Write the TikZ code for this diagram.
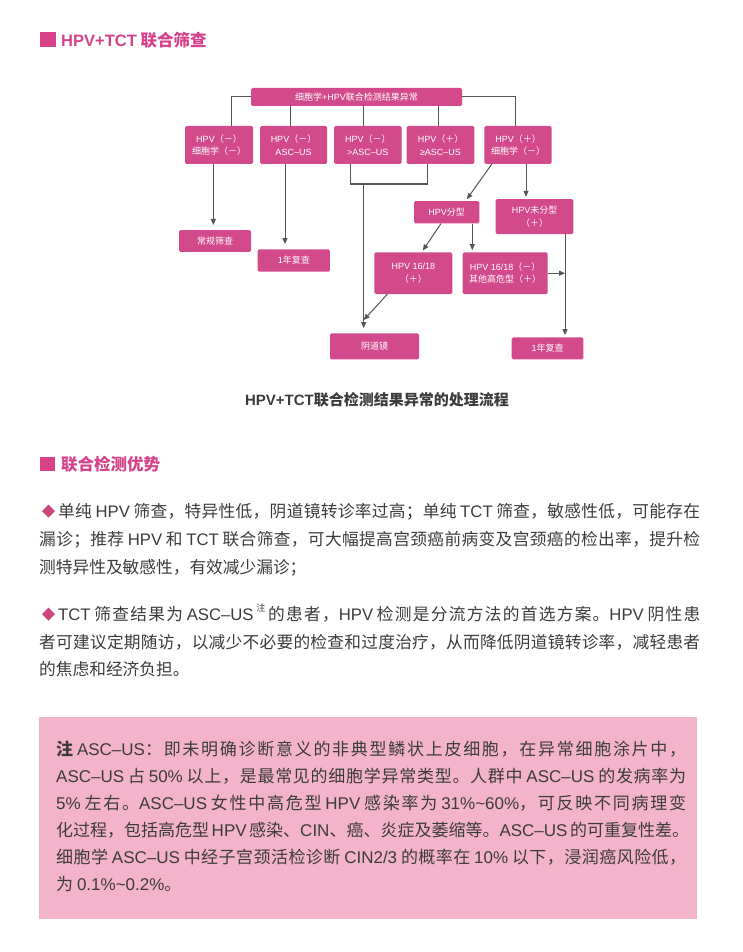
\documentclass[tikz,border=0pt]{standalone}
\usepackage{fontspec}
\setmainfont{Noto Sans CJK SC}
\newfontfamily\latf{Liberation Sans}
\usetikzlibrary{arrows.meta,calc}
% stretchable glue between CJK characters (for justified lines)
\newXeTeXintercharclass\cjkcls
\newcount\cjkcnt
\newcommand\setcjkrange[2]{\cjkcnt=#1\relax
  \loop\XeTeXcharclass\cjkcnt=\cjkcls\relax\advance\cjkcnt by 1\relax
  \ifnum\cjkcnt<#2\relax\repeat}
\setcjkrange{"3000}{"3040}
\setcjkrange{"4E00}{"A000}
\setcjkrange{"FF00}{"FFF0}
\XeTeXinterchartoks\cjkcls\cjkcls={\hskip 0pt plus 1fil\relax}
\XeTeXinterchartokenstate=1
\newcommand\Lx[1]{{\latf #1}}
\definecolor{headpink}{HTML}{D6428A}
\definecolor{boxfill}{HTML}{D24A8C}
\definecolor{notebg}{HTML}{F3B3CB}
\definecolor{txtgray}{HTML}{3C3C3C}
\definecolor{linegray}{HTML}{555555}
\definecolor{diampink}{HTML}{C9497F}
\newcommand\bodyfont{\fontsize{16.7}{20}\selectfont}
\newcommand\notefont{\fontsize{17}{20}\selectfont}
\begin{document}
\begin{tikzpicture}[x=1pt,y=-1pt,
  fbox/.style={fill=boxfill, rounded corners=1.5pt, text=white, align=center,
    font={\XeTeXinterchartokenstate=0\relax\fontsize{9}{12.5}\selectfont}, inner sep=0pt},
  conn/.style={draw=linegray, line width=1pt},
  arr/.style={conn, -{Triangle[length=6pt,width=5pt]}, shorten >=2pt},
  arrl/.style={arr, shorten >=5pt},
  head/.style={anchor=base west, inner sep=0pt, text=headpink,
    font=\fontsize{16.5}{20}\selectfont\bfseries},
  body/.style={anchor=base west, inner sep=0pt, text=txtgray, font=\bodyfont},
  note/.style={anchor=base west, inner sep=0pt, text=txtgray, font=\notefont}]
\useasboundingbox (0,0) rectangle (742,952);
\fill[white] (0,0) rectangle (742,952);

% headings
\fill[headpink] (40,32) rectangle (55.5,47);
\node[head] (h1t) at (61,46.5) {\Lx{HPV+TCT} 联合筛查};

% flowchart boxes
\node[fbox, minimum width=211pt, minimum height=18pt] (top) at (356.5,97) {细胞学\Lx{+HPV}联合检测结果异常};
\node[fbox, minimum width=68pt, minimum height=38pt] (b1) at (219,145) {\Lx{HPV}（－）\\细胞学（－）};
\node[fbox, minimum width=67pt, minimum height=38pt] (b2) at (293.5,145) {\Lx{HPV}（－）\\\Lx{ASC–US}};
\node[fbox, minimum width=67.5pt, minimum height=38pt] (b3) at (367.75,145) {\Lx{HPV}（－）\\\Lx{>ASC–US}};
\node[fbox, minimum width=67.6pt, minimum height=38pt] (b4) at (440.5,145) {\Lx{HPV}（＋）\\\Lx{≥ASC–US}};
\node[fbox, minimum width=67.4pt, minimum height=38pt] (b5) at (518,145) {\Lx{HPV}（＋）\\细胞学（－）};
\node[fbox, minimum width=72pt, minimum height=21.7pt] (rc) at (215,241) {常规筛查};
\node[fbox, minimum width=72.3pt, minimum height=22.4pt] (f1) at (293.8,260.5) {\Lx{1}年复查};
\node[fbox, minimum width=65.3pt, minimum height=22.3pt] (fx) at (446.7,212.2) {\Lx{HPV}分型};
\node[fbox, minimum width=77.6pt, minimum height=35pt] (wf) at (534.5,216.5) {\Lx{HPV}未分型\\（＋）};
\node[fbox, minimum width=78pt, minimum height=41.7pt] (hp) at (413.3,273.2) {\Lx{HPV 16/18}\\（＋）};
\node[fbox, minimum width=85pt, minimum height=41.7pt] (hn) at (505.2,273.2) {\Lx{HPV 16/18}（－）\\其他高危型（＋）};
\node[fbox, minimum width=89pt, minimum height=26pt] (yd) at (374.5,346.3) {阴道镜};
\node[fbox, minimum width=71.6pt, minimum height=22pt] (f2) at (547.5,348.3) {\Lx{1}年复查};

% connectors from the top box
\coordinate (c1) at ([xshift=12pt]b1.north);
\coordinate (c2) at ([xshift=-3.5pt]b2.north);
\coordinate (c3) at ([xshift=-4.75pt]b3.north);
\coordinate (c4) at ([xshift=-2.5pt]b4.north);
\coordinate (c5) at ([xshift=-2.3pt]b5.north);
\draw[conn] (top.west) -| (c1);
\draw[conn] (c2 |- top.south) -- (c2);
\draw[conn] (c3 |- top.south) -- (c3);
\draw[conn] (c4 |- top.south) -- (c4);
\draw[conn] (top.east) -| (c5);

% row 1 to lower boxes
\coordinate (d1) at ([xshift=-5.7pt]b1.south);
\coordinate (d2) at ([xshift=-8.5pt]b2.south);
\draw[arrl] (d1) -- (d1 |- rc.north);
\draw[arrl] (d2) -- (d2 |- f1.north);
\coordinate (d3) at ([xshift=-17.75pt]b3.south);
\coordinate (d4) at ([xshift=-12.8pt]b4.south);
\coordinate (m) at (363.7,184);
\draw[conn] (d3) -- (d3 |- m) -- (d4 |- m) -- (d4);
\draw[arrl] (m) -- (m |- yd.north);
\draw[arr] ([xshift=-26.3pt]b5.south) -- ([xshift=19pt]fx.north);
\coordinate (d5) at ([xshift=8pt]b5.south);
\draw[arr] (d5) -- (d5 |- wf.north);
\draw[arr] ([xshift=-5.7pt]fx.south) -- ([xshift=8.4pt]hp.north);
\coordinate (d6) at ([xshift=25.6pt]fx.south);
\draw[arr] (d6) -- (d6 |- hn.north);
\coordinate (d7) at ([xshift=30.5pt]wf.south);
\draw[arr] (d7) -- (d7 |- f2.north);
\draw[arr, shorten >=0pt] (hn.east) -- (hn.east -| d7);
\coordinate (j1) at (363.7,320);
\draw[arr, shorten >=0pt] ([xshift=-26pt]hp.south) -- (j1);

% caption
\node[anchor=base, inner sep=0pt, text=txtgray, font=\fontsize{15}{18}\selectfont\bfseries] (cap) at (377,405.5) {\Lx{HPV+TCT}联合检测结果异常的处理流程};

% heading 2
\fill[headpink] (40,457) rectangle (55,471);
\node[head] (h2t) at (61,470) {联合检测优势};

% paragraph 1
\fill[diampink] (42,511) -- (48.5,504.5) -- (55,511) -- (48.5,517.5) -- cycle;
\node[body] (p1a) at (58,517.3) {\makebox[642pt][s]{单纯 \Lx{HPV} 筛查，特异性低，阴道镜转诊率过高；单纯 \Lx{TCT} 筛查，敏感性低，可能存在}};
\node[body] (p1b) at (39,545.8) {\makebox[661pt][s]{漏诊；推荐 \Lx{HPV} 和 \Lx{TCT} 联合筛查，可大幅提高宫颈癌前病变及宫颈癌的检出率，提升检}};
\node[body] (p1c) at (39,573.3) {测特异性及敏感性，有效减少漏诊；};

% paragraph 2
\fill[diampink] (42,614) -- (48.5,607.5) -- (55,614) -- (48.5,620.5) -- cycle;
\node[body] (p2a) at (58,620.3) {\makebox[642pt][s]{\Lx{TCT} 筛查结果为 \Lx{ASC–US}\,\raisebox{0.5em}{\fontsize{9}{9}\selectfont 注}\,的患者，\Lx{HPV} 检测是分流方法的首选方案。\Lx{HPV} 阴性患}};
\node[body] (p2b) at (39,648.3) {\makebox[661pt][s]{者可建议定期随访，以减少不必要的检查和过度治疗，从而降低阴道镜转诊率，减轻患者}};
\node[body] (p2c) at (39,675.3) {的焦虑和经济负担。};

% note box
\fill[notebg] (39,717) rectangle (697,918.5);
\node[note] (n1) at (56,755) {\makebox[630pt][s]{{\bfseries 注} \Lx{ASC–US}：即未明确诊断意义的非典型鳞状上皮细胞，在异常细胞涂片中，}};
\node[note] (n2) at (56,782) {\makebox[630pt][s]{\Lx{ASC–US} 占 \Lx{50\%} 以上，是最常见的细胞学异常类型。人群中 \Lx{ASC–US} 的发病率为}};
\node[note] (n3) at (56,809) {\makebox[630pt][s]{\Lx{5\%} 左右。\Lx{ASC–US} 女性中高危型 \Lx{HPV} 感染率为 \Lx{31\%\textasciitilde 60\%}，可反映不同病理变}};
\node[note] (n4) at (56,836) {\makebox[630pt][s]{化过程，包括高危型 \Lx{HPV} 感染、\Lx{CIN}、癌、炎症及萎缩等。\Lx{ASC–US} 的可重复性差。}};
\node[note] (n5) at (56,863) {\makebox[630pt][s]{细胞学 \Lx{ASC–US} 中经子宫颈活检诊断 \Lx{CIN2/3} 的概率在 \Lx{10\%} 以下，浸润癌风险低，}};
\node[note] (n6) at (56,890.5) {为 \Lx{0.1\%\textasciitilde 0.2\%}。};
\end{tikzpicture}
\end{document}
